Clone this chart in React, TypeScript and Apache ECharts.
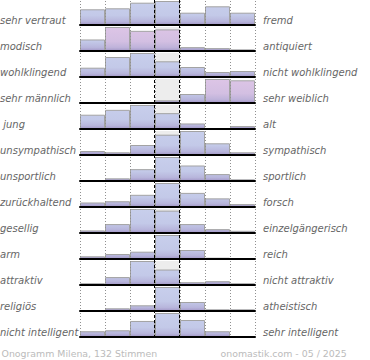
import React, { useEffect, useRef } from "react";
import * as echarts from "echarts";

// Seven answer steps per scale (left pole -> right pole)
const categories = ["1", "2", "3", "4", "5", "6", "7"];

const leftLabels = [
  "sehr vertraut", "modisch", "wohlklingend", "sehr männlich", " jung", "unsympathisch",
  "unsportlich", "zurückhaltend", "gesellig", "arm", "attraktiv", "religiös", "nicht intelligent",
];
const rightLabels = [
  "fremd", "antiquiert", "nicht wohlklingend", "sehr weiblich", "alt", "sympathisch",
  "sportlich", "forsch", "einzelgängerisch", "reich", "nicht attraktiv", "atheistisch", "sehr intelligent",
];

// Relative vote shares per step
const vertrautFremd = [15.7, 16.7, 22.3, 24, 12.3, 18.7, 12.3];
const modischAntiquiert = [12, 25, 21, 22.5, 4, 3, 1.7];
const wohlklingend = [9.3, 20, 24, 15.7, 10, 5, 6];
const maennlichWeiblich = [0, 0, 0, 2.7, 9, 24, 22.7];
const jungAlt = [14.7, 19.7, 24.7, 16.3, 5.7, 0, 3];
const sympathisch = [4, 2.7, 10, 20.3, 24, 11.7, 2.7];
const sportlich = [0.7, 2.7, 12, 24.3, 15.7, 7, 1.7];
const zurueckhaltendForsch = [4.7, 6, 12.7, 25, 14.7, 9, 3];
const geselligEinzelgaenger = [2.7, 9.3, 25, 23.3, 9.3, 4, 2.3];
const armReich = [2.7, 5, 7.3, 24, 9, 1.3, 1];
const attraktiv = [1.7, 7.7, 23.3, 15, 2.7, 3.7, 1.7];
const religioesAtheistisch = [0.7, 2.7, 5.7, 24, 9, 1.7, 1.7];
const intelligent = [6, 7, 16.7, 25, 17.7, 6, 0];

const rowValues = [
  vertrautFremd, modischAntiquiert, wohlklingend, maennlichWeiblich, jungAlt, sympathisch,
  sportlich, zurueckhaltendForsch, geselligEinzelgaenger, armReich, attraktiv, religioesAtheistisch, intelligent,
];

// bars drawn in the pink tone (row index -> step indices)
const pinkSteps: number[][] = [[], [1, 2, 3], [], [5, 6], [], [], [], [], [], [], [], [], []];

const footerLeft = "Onogramm Milena, 132 Stimmen";
const footerRight = "onomastik.com - 05 / 2025";

const W = 370;
const H = 360;
const PLOT_LEFT = 80;
const PLOT_WIDTH = 175;
const ROW_STEP = 26;
const ROW_TOP0 = 1;
const ROW_H = 24;
const FONT = '"DejaVu Sans", sans-serif';

export default function App() {
  const ref = useRef<HTMLDivElement>(null);
  useEffect(() => {
    document.body.style.margin = "0";
    const chart = echarts.init(ref.current!, null, { renderer: "svg", width: W, height: H });
    const grids: any[] = [];
    const xAxes: any[] = [];
    const yAxes: any[] = [];
    const series: any[] = [];
    const graphics: any[] = [];
    const colW = PLOT_WIDTH / categories.length;

    rowValues.forEach((vals, i) => {
      const top = ROW_TOP0 + i * ROW_STEP;
      grids.push({ left: PLOT_LEFT, top, width: PLOT_WIDTH, height: ROW_H, containLabel: false });
      xAxes.push({
        type: "category",
        gridIndex: i,
        data: categories,
        boundaryGap: true,
        z: 10,
        axisLine: { show: true, lineStyle: { color: "#000", width: 2 } },
        axisTick: { show: false },
        axisLabel: { show: false },
        splitLine: { show: true, interval: 0, lineStyle: { color: "#909090", width: 1, type: [1, 2] } },
      });
      yAxes.push({ type: "value", gridIndex: i, min: 0, max: "dataMax", show: false, splitLine: { show: false } });
      const rowMax = Math.max(...vals);
      const blue = new echarts.graphic.LinearGradient(
        0, top, 0, top + ROW_H,
        [
          { offset: 0, color: "#c8cfec" },
          { offset: 0.6, color: "#c3c9e8" },
          { offset: 0.85, color: "#b8b6dc" },
          { offset: 1, color: "#a296c6" },
        ],
        true
      );
      const pink = new echarts.graphic.LinearGradient(
        0, top, 0, top + ROW_H,
        [
          { offset: 0, color: "#ddc5e6" },
          { offset: 0.6, color: "#d3bfe2" },
          { offset: 0.85, color: "#bfb3da" },
          { offset: 1, color: "#a296c6" },
        ],
        true
      );
      series.push({
        type: "bar",
        xAxisIndex: i,
        yAxisIndex: i,
        data: categories.map((_, k) => (k === 3 ? rowMax : null)),
        barWidth: "100%",
        barGap: "-100%",
        itemStyle: { color: "#ededed" },
        z: 1,
        silent: true,
      });
      series.push({
        type: "bar",
        xAxisIndex: i,
        yAxisIndex: i,
        data: vals.map((v, k) =>
          pinkSteps[i].includes(k) ? { value: v, itemStyle: { color: pink } } : v
        ),
        barWidth: "100%",
        barGap: "-100%",
        itemStyle: { color: blue, borderColor: "#a3a3a3", borderWidth: 1 },
        z: 2,
      });
      const ty = top + ROW_H - 4.5;
      graphics.push({
        type: "text",
        x: 0,
        y: ty,
        z: 20,
        style: {
          text: leftLabels[i], fill: "#666", fontFamily: FONT, fontSize: 10, fontStyle: "italic",
          align: "left", verticalAlign: "middle", textAlign: "left", textVerticalAlign: "middle",
        },
      });
      graphics.push({
        type: "text",
        x: 263,
        y: ty,
        z: 20,
        style: {
          text: rightLabels[i], fill: "#666", fontFamily: FONT, fontSize: 10, fontStyle: "italic",
          align: "left", verticalAlign: "middle", textAlign: "left", textVerticalAlign: "middle",
        },
      });
    });

    const bottom = ROW_TOP0 + (rowValues.length - 1) * ROW_STEP + ROW_H + 1;
    [3, 4].forEach((k) => {
      const x = PLOT_LEFT + k * colW - 0.5;
      graphics.push({
        type: "line",
        z: 30,
        shape: { x1: x, y1: 0, x2: x, y2: bottom },
        style: { stroke: "#000", lineWidth: 1, lineDash: [3, 2] },
      });
    });
    graphics.push({
      type: "text", x: 1.5, y: 353, z: 20,
      style: { text: footerLeft, fill: "#bbb", fontFamily: FONT, fontSize: 9.4,
        align: "left", verticalAlign: "middle", textAlign: "left", textVerticalAlign: "middle" },
    });
    graphics.push({
      type: "text", x: 220.5, y: 353, z: 20,
      style: { text: footerRight, fill: "#bbb", fontFamily: FONT, fontSize: 9.4,
        align: "left", verticalAlign: "middle", textAlign: "left", textVerticalAlign: "middle" },
    });

    chart.setOption({
      animation: false,
      backgroundColor: "#fff",
      grid: grids,
      xAxis: xAxes,
      yAxis: yAxes,
      series,
      graphic: graphics,
    });
    return () => chart.dispose();
  }, []);
  return <div ref={ref} style={{ width: W, height: H }} />;
}
